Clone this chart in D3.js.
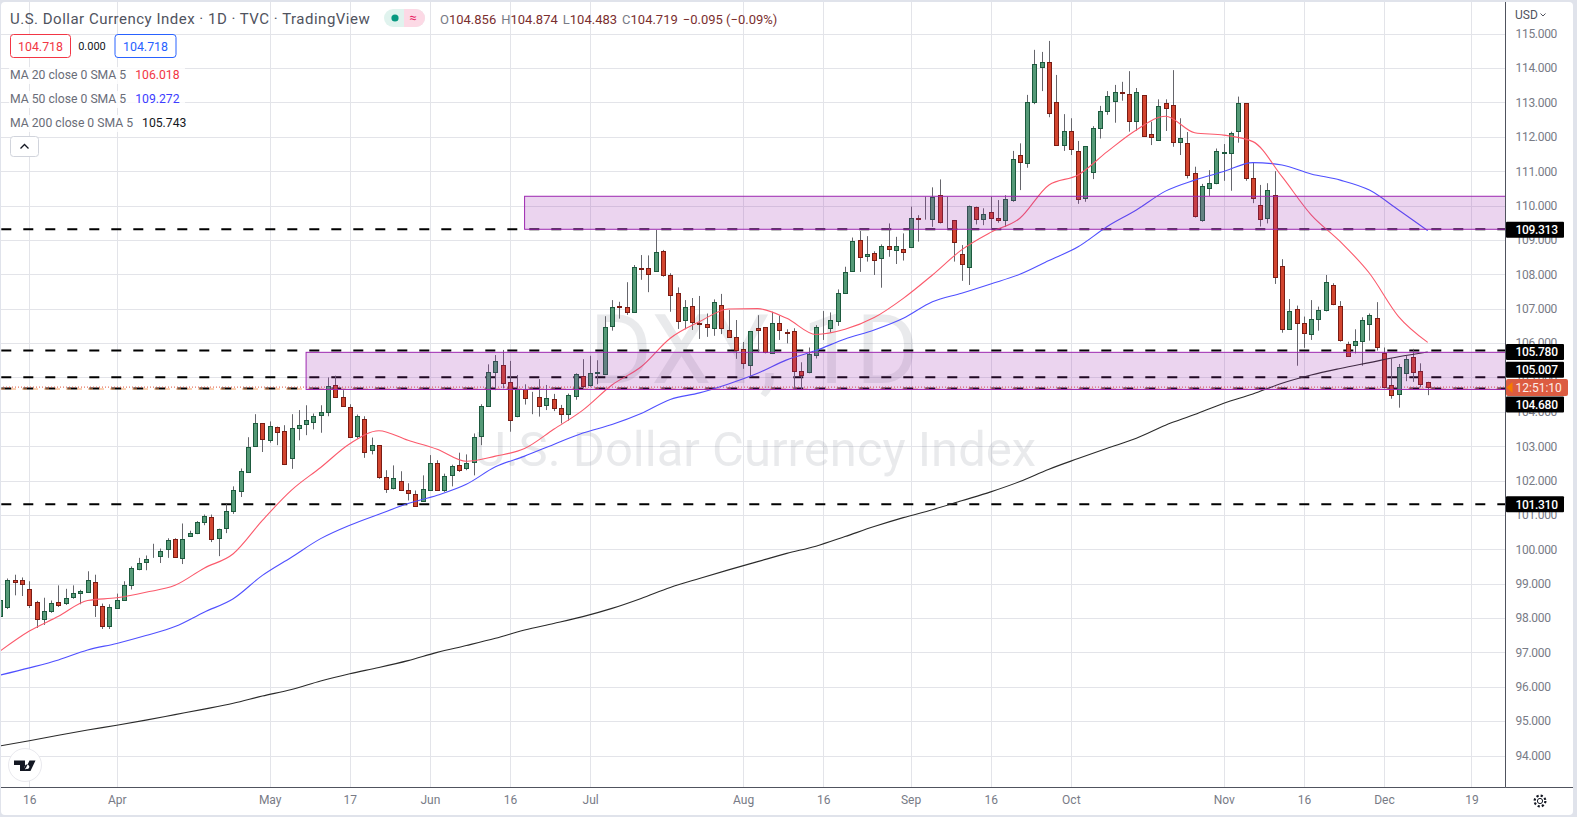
<!DOCTYPE html>
<html>
<head>
<meta charset="utf-8">
<title>DXY daily</title>
<script src="https://cdnjs.cloudflare.com/ajax/libs/d3/7.8.5/d3.min.js"></script>
<style>
  html, body { margin: 0; padding: 0; background: #e0e3eb; overflow: hidden; }
  svg { display: block; }
  text { font-family: Roboto, "Liberation Sans", sans-serif; }
</style>
</head>
<body>
<script>
// Daily candles, first bar is 10 Mar, last is 9 Dec
var opens = [
  98.03,98.32,99.12,99.10,98.85,98.47,97.97,98.20,98.47,98.43,
  98.61,98.72,98.78,99.06,98.36,97.79,98.29,98.53,98.97,99.43,
  99.63,99.81,99.81,100.01,100.31,99.75,100.40,100.48,100.80,100.95,
  100.34,100.60,101.09,101.70,102.26,103.00,103.66,103.18,103.57,103.45,
  102.66,103.53,103.62,103.72,103.88,103.97,104.78,104.44,104.15,103.31,
  103.80,102.86,103.02,102.09,101.76,102.00,101.71,101.62,101.42,101.73,
  102.52,101.73,102.14,102.46,102.38,102.54,103.31,104.18,105.17,105.35,
  104.88,103.86,104.65,104.42,104.42,104.18,104.36,104.10,103.94,104.44,
  105.03,104.76,105.11,105.11,106.48,107.07,107.04,106.88,108.17,108.17,
  108.09,108.67,107.97,107.47,106.65,107.07,106.57,106.54,106.43,107.12,
  106.37,106.19,105.82,105.34,106.43,106.46,105.70,106.57,106.31,106.34,
  105.20,105.14,105.67,106.46,106.42,106.66,107.47,108.08,108.99,108.52,
  108.61,108.46,108.81,108.70,108.75,108.80,109.63,109.59,109.60,110.30,
  109.66,109.58,108.58,108.22,109.97,109.60,109.80,109.63,109.56,110.14,
  111.46,111.23,112.99,114.01,114.17,113.00,111.74,112.16,111.58,110.20,
  110.98,112.25,112.73,113.05,113.30,113.24,112.47,113.21,112.07,111.89,
  112.97,112.94,111.86,111.81,110.94,109.58,110.49,110.64,111.52,111.52,
  112.15,112.97,110.79,110.03,109.62,110.30,108.23,106.40,106.98,106.57,
  106.25,106.69,106.95,107.68,107.07,105.96,105.93,106.05,106.57,106.72,
  105.70,104.79,104.51,105.15,105.60,105.18,104.856
];
var highs = [
  98.60,99.15,99.26,99.18,99.07,98.50,98.59,98.51,98.95,98.85,
  98.95,98.82,99.36,99.26,98.42,98.40,98.71,99.07,99.50,99.75,
  99.82,100.16,100.02,100.32,100.32,100.75,100.54,100.82,101.01,101.01,
  100.60,101.31,101.83,102.35,103.26,103.93,103.66,103.72,103.57,103.61,
  103.93,104.05,104.19,103.95,104.19,105.00,105.05,104.63,104.22,103.92,
  103.87,103.25,103.02,102.30,102.44,102.27,101.92,101.71,102.15,102.74,
  102.59,102.20,102.46,102.81,102.76,103.37,104.22,105.38,105.65,105.80,
  105.48,105.07,104.80,104.58,104.95,104.78,104.52,104.20,104.53,105.12,
  105.53,105.63,105.50,106.78,107.25,107.20,107.77,108.27,108.56,108.55,
  109.29,108.71,108.03,107.62,107.25,107.31,107.37,106.86,107.27,107.43,
  106.96,106.67,106.03,106.34,106.81,106.46,106.91,106.80,106.40,106.43,
  105.44,105.87,106.52,106.93,106.89,107.56,108.22,109.07,109.26,109.11,
  108.67,108.87,109.48,109.09,109.19,109.97,109.72,110.26,110.53,110.76,
  110.26,109.58,108.85,110.00,109.97,109.92,110.26,110.16,110.30,111.59,
  111.81,113.22,114.53,114.47,114.79,113.80,112.66,112.54,111.88,111.72,
  112.31,112.90,113.33,113.51,113.60,113.91,113.42,113.21,112.44,113.09,
  113.09,113.94,112.54,112.14,111.13,110.63,111.03,111.66,111.79,112.15,
  113.17,112.97,111.26,110.60,110.65,111.00,108.44,107.28,107.09,106.77,
  107.25,107.06,107.98,107.74,107.22,106.04,106.40,106.75,106.86,107.19,
  105.87,105.55,105.39,105.62,105.83,105.41,104.874
];
var lows = [
  97.95,98.26,98.66,98.64,98.29,97.71,97.80,98.15,98.32,98.38,
  98.56,98.40,98.76,98.03,97.68,97.68,98.29,98.51,98.83,99.39,
  99.39,99.75,99.60,99.75,99.80,99.57,100.40,100.44,100.70,100.21,
  99.80,100.47,101.03,101.52,102.23,102.98,102.83,103.10,103.03,102.45,
  102.34,103.17,103.32,103.49,103.39,103.87,104.40,104.14,103.25,103.22,
  102.66,102.76,102.05,101.64,101.74,101.71,101.42,101.25,101.42,101.73,
  101.73,101.67,101.83,102.25,102.30,102.15,103.03,104.15,104.63,104.68,
  103.42,103.84,104.21,103.93,103.86,104.05,104.02,103.66,103.74,104.35,
  104.68,104.73,104.80,105.07,106.36,106.71,106.82,106.88,107.84,107.48,
  108.07,107.93,106.91,106.41,106.40,106.38,106.12,106.18,106.21,106.26,
  106.17,105.54,105.25,105.02,105.72,105.70,105.68,106.09,105.99,104.66,
  104.66,105.12,105.55,106.09,106.30,106.50,107.45,108.07,108.07,108.37,
  107.98,107.61,108.51,108.30,108.40,108.78,108.95,109.59,109.38,109.48,
  109.31,108.37,107.81,107.69,109.45,109.43,109.34,109.50,109.38,110.11,
  110.45,111.10,112.95,113.33,112.57,111.74,111.59,111.47,110.05,110.11,
  110.77,111.95,112.64,112.41,113.05,112.15,112.18,112.03,111.76,111.89,
  112.17,111.71,111.47,110.79,109.65,109.53,110.28,110.62,110.72,110.43,
  111.83,110.72,110.07,109.39,109.48,107.72,106.30,106.38,105.34,105.86,
  106.09,106.36,106.92,107.10,106.04,105.60,105.70,105.34,106.07,105.78,
  104.68,104.38,104.12,104.89,104.87,104.71,104.483
];
var closes = [
  98.51,99.12,99.05,98.99,98.38,97.97,98.21,98.44,98.38,98.59,
  98.74,98.79,99.12,98.38,97.79,98.33,98.53,98.97,99.46,99.61,
  99.73,99.82,99.96,100.28,99.80,100.31,100.48,100.80,100.98,100.31,
  100.60,101.10,101.71,102.29,102.99,103.66,103.18,103.60,103.42,102.48,
  103.54,103.63,103.75,103.89,103.98,104.74,104.43,104.17,103.27,103.89,
  102.83,103.02,102.08,101.74,102.06,101.73,101.61,101.27,101.76,102.52,
  101.73,102.14,102.41,102.31,102.52,103.28,104.18,105.17,105.48,104.82,
  103.78,104.65,104.38,104.41,104.15,104.39,104.09,103.92,104.48,105.09,
  104.73,105.12,105.15,106.48,107.04,107.04,106.88,108.20,108.14,107.99,
  108.64,107.96,107.38,106.65,107.04,106.60,106.54,106.45,107.18,106.46,
  106.18,105.81,105.40,106.34,106.37,105.72,106.57,106.36,106.28,105.17,
  105.08,105.67,106.48,106.45,106.66,107.47,108.08,108.96,108.49,108.58,
  108.41,108.81,108.72,108.81,108.67,109.63,109.60,109.60,110.25,109.51,
  109.65,108.95,108.29,109.99,109.63,109.74,109.63,109.56,110.18,111.34,
  111.25,113.00,114.11,114.17,112.70,111.74,112.16,111.65,110.18,111.72,
  112.25,112.75,113.18,113.30,113.27,112.44,113.30,112.03,111.97,112.89,
  112.82,111.86,111.98,110.87,109.68,110.56,110.65,111.58,111.55,112.10,
  112.97,110.78,110.20,109.62,110.44,107.90,106.40,106.92,106.57,106.28,
  106.69,106.95,107.77,107.12,106.08,105.61,106.05,106.66,106.83,105.87,
  104.71,104.51,105.29,105.55,105.16,104.79,104.719
];

var maBars = [
  0,4,8,12,16,20,24,28,32,36,40,44,48,52,56,60,64,68,72,76,80,84,88,92,96,
  100,104,108,112,116,120,124,128,132,136,140,144,148,152,156,160,164,168,172,176,180,184,188,192,196
];
var ma20 = [
  97.04,97.62,98.05,98.51,98.59,98.75,98.95,99.45,99.87,100.84,101.72,102.38,103.07,103.45,103.17,102.91,102.56,102.71,102.93,103.49,104.05,104.78,105.31,106.14,106.62,
  106.99,107.00,106.72,106.25,106.40,106.74,107.30,107.98,108.71,109.22,109.63,110.60,110.89,111.57,112.20,112.60,112.12,112.05,111.86,110.84,109.73,108.95,108.03,106.77,106.02
];
var ma50 = [
  96.34,96.55,96.78,97.07,97.26,97.49,97.75,98.17,98.56,99.24,99.77,100.31,100.70,101.02,101.33,101.57,101.89,102.40,102.71,103.05,103.38,103.63,103.95,104.36,104.55,
  104.81,105.12,105.51,105.78,106.12,106.38,106.72,107.20,107.45,107.72,108.00,108.40,108.80,109.39,109.87,110.42,110.74,110.99,111.25,111.18,110.92,110.74,110.45,109.87,109.27
];
var ma200 = [
  94.28,94.43,94.59,94.74,94.88,95.03,95.19,95.35,95.52,95.73,95.92,96.17,96.38,96.56,96.76,97.00,97.20,97.41,97.65,97.84,98.04,98.28,98.57,98.89,99.15,
  99.40,99.64,99.88,100.09,100.37,100.66,100.92,101.15,101.41,101.67,101.97,102.33,102.64,102.94,103.23,103.61,103.92,104.25,104.52,104.83,105.07,105.26,105.43,105.60,105.74
];

var timeTickBars = [4, 16, 37, 48, 59, 70, 81, 102, 113, 125, 136, 147, 168, 179, 190, 202];
var timeTickLabels = ['16', 'Apr', 'May', '17', 'Jun', '16', 'Jul', 'Aug', '16', 'Sep', '16', 'Oct', 'Nov', '16', 'Dec', '19'];
var priceTicks = d3.range(94, 116);

var levels = [109.313, 105.78, 105.007, 104.68, 101.31];
var zoneStartBars = [72, 42];
var zoneTops = [110.27, 105.73];
var zoneBottoms = [109.31, 104.65];

var W = 1577, H = 817;
var plotRight = 1505.5, plotBottom = 787.5;

var x = d3.scaleLinear().domain([0, 196]).range([0.2, 1427.7]);
var y = d3.scaleLinear().domain([94, 115]).range([755.5, 33.7]);

var svg = d3.select('body').append('svg').attr('width', W).attr('height', H);

svg.append('rect').attr('x', 1).attr('y', 2).attr('width', 1572).attr('height', 813).attr('rx', 4).attr('fill', '#fff');

svg.append('clipPath').attr('id', 'plot')
  .append('rect').attr('x', 1).attr('y', 2).attr('width', plotRight - 1).attr('height', plotBottom - 2);

// Grid
var grid = svg.append('g');
grid.append('g').attr('transform', 'translate(0,' + plotBottom + ')')
  .call(d3.axisBottom(x).tickValues(timeTickBars).tickSize(-(plotBottom - 2)).tickFormat(''))
  .call(function (g) { g.select('.domain').remove(); });
grid.append('g').attr('transform', 'translate(' + plotRight + ',0)')
  .call(d3.axisLeft(y).tickValues(priceTicks).tickSize(plotRight - 1).tickFormat(''))
  .call(function (g) { g.select('.domain').remove(); });
grid.selectAll('line').attr('stroke', '#e3e4e9').attr('stroke-width', 1)
  .attr('shape-rendering', 'crispEdges');

// Watermark
var mark = svg.append('g').attr('fill', '#787b86').attr('fill-opacity', 0.16).attr('text-anchor', 'middle');
mark.append('text').attr('x', 754).attr('y', 383).style('font-size', '96px').text('DXY, 1D');
mark.append('text').attr('x', 755).attr('y', 466).style('font-size', '49px').text('U.S. Dollar Currency Index');

var chart = svg.append('g').attr('clip-path', 'url(#plot)');

// Horizontal levels
chart.selectAll('.level').data(levels).enter().append('line')
  .attr('class', 'level')
  .attr('x1', 1.3).attr('x2', plotRight)
  .attr('y1', function (d) { return y(d); }).attr('y2', function (d) { return y(d); })
  .attr('stroke', '#000').attr('stroke-width', 2).attr('stroke-dasharray', '10 12');

// Current price lines
chart.append('line').attr('x1', 0).attr('x2', plotRight)
  .attr('y1', y(104.68) + 0.6).attr('y2', y(104.68) + 0.6)
  .attr('stroke', '#f6a368').attr('stroke-width', 1.2).attr('stroke-dasharray', '5 6');
chart.append('line').attr('x1', 0).attr('x2', plotRight)
  .attr('y1', y(104.718)).attr('y2', y(104.718))
  .attr('stroke', '#e0533a').attr('stroke-width', 1).attr('stroke-dasharray', '1 2');

// Candles
var bars = d3.range(opens.length);
function barUp(i) { return closes[i] >= opens[i]; }
function barX(i) { return Math.round(x(i)); }

chart.selectAll('.wick').data(bars).enter().append('line')
  .attr('class', 'wick')
  .attr('x1', function (i) { return barX(i) + 0.5; })
  .attr('x2', function (i) { return barX(i) + 0.5; })
  .attr('y1', function (i) { return y(highs[i]); })
  .attr('y2', function (i) { return y(lows[i]); })
  .attr('stroke', '#66666c').attr('stroke-width', 1);

chart.selectAll('.body').data(bars).enter().append('rect')
  .attr('class', 'body')
  .attr('x', function (i) { return barX(i) - 1.5; })
  .attr('width', 4)
  .attr('y', function (i) { return Math.round(y(Math.max(opens[i], closes[i]))) + 0.5; })
  .attr('height', function (i) { return Math.max(0, Math.round(Math.abs(y(opens[i]) - y(closes[i])))); })
  .attr('fill', function (i) { return barUp(i) ? '#559a77' : '#d2452f'; })
  .attr('stroke', function (i) { return barUp(i) ? '#1d5a3e' : '#7a1c14'; })
  .attr('stroke-width', 1);

// Moving averages
var maLine = d3.line()
  .x(function (d, i) { return x(maBars[i]); })
  .y(function (d) { return y(d); })
  .curve(d3.curveMonotoneX);
[[ma200, '#2b2b2b'], [ma50, '#5050ff'], [ma20, '#fb5a6c']].forEach(function (s) {
  chart.append('path').datum(s[0]).attr('d', maLine)
    .attr('fill', 'none').attr('stroke', s[1]).attr('stroke-width', 1.1);
});

// Zones sit above everything in the plot
chart.selectAll('.zone').data(zoneTops).enter().append('rect')
  .attr('class', 'zone')
  .attr('x', function (d, i) { return x(zoneStartBars[i]); })
  .attr('width', function (d, i) { return plotRight + 2 - x(zoneStartBars[i]); })
  .attr('y', function (d) { return y(d); })
  .attr('height', function (d, i) { return y(zoneBottoms[i]) - y(d); })
  .attr('fill', '#9c27b0').attr('fill-opacity', 0.2)
  .attr('stroke', '#9c27b0').attr('stroke-width', 1);

// Price axis
var priceAxis = svg.append('g').attr('transform', 'translate(' + plotRight + ',0)')
  .call(d3.axisRight(y).tickValues(priceTicks).tickSize(0).tickPadding(10).tickFormat(d3.format('.3f')));
priceAxis.select('.domain').attr('d', 'M0,2V' + plotBottom).attr('stroke', '#50535e');
priceAxis.selectAll('text').attr('fill', '#787b86').style('font-size', '12px').style('letter-spacing', '-0.3px');

// Time axis
var timeAxis = svg.append('g').attr('transform', 'translate(0,' + plotBottom + ')')
  .call(d3.axisBottom(x).tickValues(timeTickBars).tickSize(0).tickPadding(8)
    .tickFormat(function (d, i) { return timeTickLabels[i]; }));
timeAxis.select('.domain').attr('d', 'M1,0H' + plotRight).attr('stroke', '#50535e');
timeAxis.selectAll('text').attr('fill', '#787b86').style('font-size', '12px');
svg.append('line').attr('x1', plotRight).attr('x2', 1573).attr('y1', plotBottom).attr('y2', plotBottom)
  .attr('stroke', '#50535e');

// Price tags, nudged apart like the real scale does
var tagShift = [0.5, 1.5, -7.5, 16, 0];
var tagG = svg.selectAll('.tag').data(levels).enter().append('g').attr('class', 'tag')
  .attr('transform', function (d, i) { return 'translate(' + plotRight + ',' + (y(d) + tagShift[i]) + ')'; });
tagG.append('rect').attr('x', 0.5).attr('y', -8).attr('width', 58).attr('height', 16).attr('rx', 1).attr('fill', '#000');
tagG.append('text').attr('x', 10).attr('y', 4.3).attr('fill', '#fff')
  .style('font-size', '12px').style('font-weight', 500).style('letter-spacing', '-0.3px')
  .text(function (d) { return d3.format('.3f')(d); });

var cd = svg.append('g').attr('transform', 'translate(' + plotRight + ',' + 387.5 + ')');
cd.append('rect').attr('x', 0.5).attr('y', -8.5).attr('width', 62).attr('height', 17).attr('rx', 2).attr('fill', '#dc5c41');
cd.append('path').attr('d', 'M1,0L7,-5.5V5.5Z').attr('fill', '#f57c00');
cd.append('text').attr('x', 10).attr('y', 4.3).attr('fill', '#fdeee9').style('font-size', '12px').text('12:51:10');

// USD menu
svg.append('text').attr('x', 1515).attr('y', 19).attr('fill', '#50535e').style('font-size', '12px').text('USD');
svg.append('path').attr('d', 'M1540.5,13.5l2.5,2.5l2.5,-2.5').attr('fill', 'none').attr('stroke', '#50535e');

// Header
var head = svg.append('text').attr('x', 10).attr('y', 24).attr('fill', '#50535e')
  .style('font-size', '15px').style('letter-spacing', '0.5px');
head.text('U.S. Dollar Currency Index · 1D · TVC · TradingView');

svg.append('rect').attr('x', 384).attr('y', 9).attr('width', 41).attr('height', 18).attr('rx', 9).attr('fill', '#e0f3ee');
svg.append('path').attr('d', 'M404,9h12a9,9 0 0 1 0,18h-12Z').attr('fill', '#fcd9e5');
svg.append('circle').attr('cx', 395).attr('cy', 18).attr('r', 3.6).attr('fill', '#089981');
svg.append('text').attr('x', 413).attr('y', 22).attr('text-anchor', 'middle').attr('fill', '#e91e63')
  .style('font-size', '13px').text('≈');

var ohlcNames = ['O', 'H', 'L', 'C'];
var ohlcVals = ['104.856', '104.874', '104.483', '104.719'];
var ohlc = svg.append('text').attr('x', 440).attr('y', 23.5).style('font-size', '13px');
ohlcNames.forEach(function (n, i) {
  ohlc.append('tspan').attr('fill', '#787b86').attr('dx', i ? 5 : 0).text(n);
  ohlc.append('tspan').attr('fill', '#7b2f2f').text(ohlcVals[i]);
});
ohlc.append('tspan').attr('fill', '#7b2f2f').attr('dx', 5).text('−0.095 (−0.09%)');

// Bid and ask boxes
[[10, 60, '#f23645'], [114.5, 61, '#2962ff']].forEach(function (b) {
  svg.append('rect').attr('x', b[0] + 0.5).attr('y', 34.5).attr('width', b[1]).attr('height', 23).attr('rx', 3)
    .attr('fill', '#fff').attr('stroke', b[2]);
  svg.append('text').attr('x', b[0] + 0.5 + b[1] / 2).attr('y', 50.5).attr('text-anchor', 'middle')
    .attr('fill', b[2]).style('font-size', '12.4px').text('104.718');
});
svg.append('text').attr('x', 92).attr('y', 50).attr('text-anchor', 'middle').attr('fill', '#131722')
  .style('font-size', '11px').text('0.000');

// MA legend
var legendNames = ['MA 20 close 0 SMA 5', 'MA 50 close 0 SMA 5', 'MA 200 close 0 SMA 5'];
var legendValues = ['106.018', '109.272', '105.743'];
var legendColors = ['#f23645', '#3d3dff', '#131722'];
legendNames.forEach(function (n, i) {
  var ly = 79 + i * 24;
  svg.append('rect').attr('x', 9).attr('y', ly - 12).attr('width', 176).attr('height', 17).attr('fill', '#fff').attr('fill-opacity', 0.8);
  var t = svg.append('text').attr('x', 10).attr('y', ly).style('font-size', '12.2px').attr('fill', '#6a6d78');
  t.append('tspan').text(n);
  t.append('tspan').attr('dx', 9).attr('fill', legendColors[i]).text(legendValues[i]);
});

// Collapse button
svg.append('rect').attr('x', 10.5).attr('y', 136.5).attr('width', 28).attr('height', 20).attr('rx', 3)
  .attr('fill', '#fff').attr('stroke', '#d1d4dc');
svg.append('path').attr('d', 'M20.5,148.5l4,-4l4,4').attr('fill', 'none').attr('stroke', '#131722').attr('stroke-width', 1.3);

// TV logo
svg.append('circle').attr('cx', 25).attr('cy', 765).attr('r', 16.5).attr('fill', '#fff').attr('stroke', '#e9e9ee');
svg.append('path').attr('d', 'M14,760.5h11v10.5h-5v-6h-6Z M27,764.5a2.3,2.3 0 1 0 0.01,0Z M29.5,760.5h6l-5,10.5h-6Z')
  .attr('fill', '#131722');

// Settings gear
svg.append('circle').attr('cx', 1540).attr('cy', 801).attr('r', 2.6).attr('fill', 'none').attr('stroke', '#131722');
svg.append('circle').attr('cx', 1540).attr('cy', 801).attr('r', 5.4).attr('fill', 'none').attr('stroke', '#131722').attr('stroke-width', 2.2).attr('stroke-dasharray', '2.2 2.04');
</script>
</body>
</html>
